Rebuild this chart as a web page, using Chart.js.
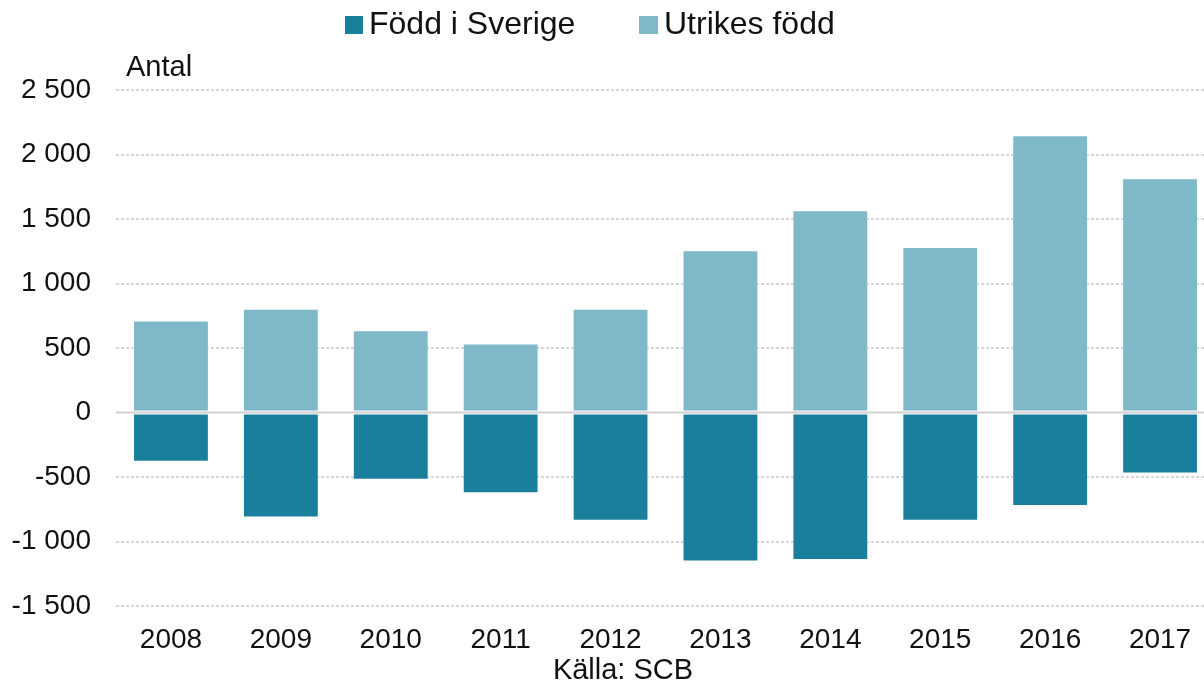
<!DOCTYPE html>
<html>
<head>
<meta charset="utf-8">
<script src="https://cdn.jsdelivr.net/npm/chart.js@4"></script>
<style>
html,body{margin:0;padding:0;background:#fff;overflow:hidden}
#wrap{width:1216px;height:690px}
</style>
</head>
<body>
<div id="wrap"><canvas id="chart" width="1216" height="690"></canvas></div>
<script>

const years = ["2008","2009","2010","2011","2012","2013","2014","2015","2016","2017"]
const foddSverige = [-382,-813,-521,-625,-839,-1156,-1143,-839,-725,-472]
const utrikesFodd = [714,805,637,534,805,1258,1568,1282,2149,1816]
const yTicks = [-1500,-1000,-500,0,500,1000,1500,2000,2500]

const FONT = "'Liberation Sans', Arial, sans-serif"

function fmt(v){
  const s = Math.abs(v).toString().replace(/\B(?=(\d{3})+(?!\d))/g," ")
  return (v<0 ? "-" : "") + s
}

/* legend, Antal, Källa, nollinje */
const extras = {
  id:"extras",
  afterDatasetsDraw(chart){
    const c = chart.ctx
    const y0 = chart.scales.y.getPixelForValue(0)
    c.save()
    c.strokeStyle = "#d0d0d0"
    c.lineWidth = 2
    c.beginPath()
    c.moveTo(chart.chartArea.left, y0)
    c.lineTo(chart.chartArea.right, y0)
    c.stroke()
    c.restore()
  },
  afterDraw(chart){
    const c = chart.ctx
    c.save()
    c.fillStyle = "#111"
    c.textBaseline = "middle"
    c.font = "29px " + FONT
    c.textAlign = "left"
    c.fillText("Antal", 126, 68)

    // legend
    c.font = "32px " + FONT
    c.fillStyle = "#1a7f9c"
    c.fillRect(345, 16, 18, 18)
    c.fillStyle = "#111"
    c.fillText("Född i Sverige", 369, 25)
    c.fillStyle = "#7fb8c9"
    c.fillRect(639, 16, 19, 18)
    c.fillStyle = "#111"
    c.fillText("Utrikes född", 664, 25)

    c.font = "29px " + FONT
    c.textAlign = "center"
    c.fillText("Källa: SCB", 623, 671)
    c.restore()
  }
}

new Chart(document.getElementById("chart"),{
  type:"bar",
  data:{
    labels:years,
    datasets:[
      {label:"Född i Sverige", data:foddSverige, backgroundColor:"#1a7f9c", borderColor:"rgba(255,255,255,0.25)", borderWidth:1, borderSkipped:false},
      {label:"Utrikes född", data:utrikesFodd, backgroundColor:"#7fb8c9", borderColor:"rgba(255,255,255,0.25)", borderWidth:1, borderSkipped:false}
    ]
  },
  options:{
    responsive:false,
    animation:false,
    layout:{padding:{top:90,left:0,right:1,bottom:0}},
    plugins:{
      legend:{display:false},
      tooltip:{enabled:false}
    },
    datasets:{bar:{categoryPercentage:1, barPercentage:0.69}},
    scales:{
      x:{
        stacked:true,
        grid:{display:false},
        border:{display:false},
        ticks:{color:"#111", font:{family:FONT, size:28}, padding:9, maxRotation:0},
        afterFit(s){ s.height = 84 }
      },
      y:{
        stacked:true,
        min:-1500,
        max:2500,
        afterBuildTicks(s){ s.ticks = yTicks.map(v=>({value:v})) },
        grid:{color:ctx => ctx.tick && ctx.tick.value===0 ? "rgba(0,0,0,0)" : "#d6d6d6", lineWidth:2, drawTicks:false},
        border:{display:false, dash:[3,2]},
        ticks:{color:"#111", font:{family:FONT, size:28}, padding:25, callback:v => fmt(v)},
        afterFit(s){ s.width = 116 }
      }
    }
  },
  plugins:[extras]
})

</script>
</body>
</html>
